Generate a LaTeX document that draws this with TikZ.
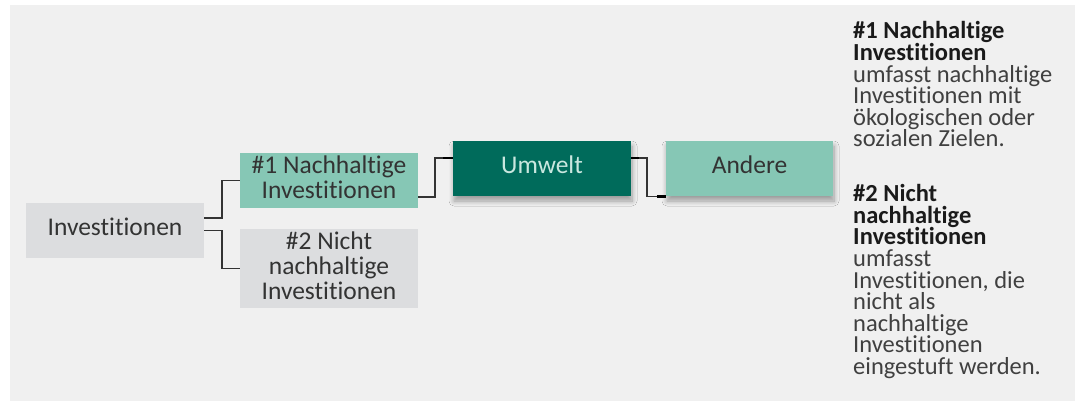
\documentclass[tikz,border=0pt]{standalone}
\usepackage{fontspec}
\setmainfont{Carlito}[Ligatures=NoCommon]
\usetikzlibrary{shadows.blur}

\definecolor{panelgray}{HTML}{F0F0F0}
\definecolor{boxgray}{HTML}{DCDDDF}
\definecolor{mint}{HTML}{86C7B5}
\definecolor{deepgreen}{HTML}{006B5B}
\definecolor{palemint}{HTML}{C9E7DF}
\definecolor{inktext}{HTML}{333333}
\definecolor{linegray}{HTML}{333333}
\definecolor{headink}{HTML}{1A1A1A}
\definecolor{bodyink}{HTML}{404040}

\newcommand{\hd}[1]{\textcolor{headink}{\bfseries #1}}

\tikzset{
  box/.style={rectangle, inner sep=0pt, minimum width=178pt, minimum height=55pt,
    align=center, text=inktext, font=\fontsize{25.5}{25}\selectfont},
  oneline/.style={text height=16pt, text depth=7pt},
  grayfill/.style={box, fill=boxgray},
  mintfill/.style={box, fill=mint},
  greenfill/.style={box, fill=deepgreen, text=palemint},
  lifted/.style={blur shadow={shadow xshift=1pt, shadow yshift=-5pt,
    shadow opacity=35, shadow blur radius=5pt, shadow blur steps=8}},
  conn/.style={draw=linegray, line width=1.5pt},
  stub/.style={draw=black, line width=2.4pt},
  note/.style={anchor=base west, inner sep=0pt, text width=215pt, align=flush left,
    text=bodyink, font=\fontsize{24.5}{21.6}\selectfont},
}

\begin{document}
\begin{tikzpicture}[x=1pt, y=-1pt]
  % canvas and grey panel
  \useasboundingbox (0,0) rectangle (1079,401);
  \fill[white] (0,0) rectangle (1079,401);
  \fill[panelgray] (10,5) rectangle (1075,401);

  % tree of investment categories
  \node[grayfill, oneline] (inv) at (115,230.5) {Investitionen};
  \node[mintfill, text height=40pt, text depth=5pt] (n1) at (329,180.5)
    {\#1 Nachhaltige\\Investitionen};
  \node[grayfill, minimum height=79pt, text height=65pt, text depth=2.6pt] (n2) at (329,268.5)
    {\#2 Nicht\\nachhaltige\\Investitionen};
  \node[greenfill, oneline, lifted] (umw) at (542,168.5) {Umwelt};
  \node[mintfill, oneline, lifted, minimum width=167pt] (oth) at (749.5,168.5) {Andere};

  % elbow connectors
  \draw[conn] ([yshift=12.5pt]inv.east) -- ++(18,0) |- (n1.west);
  \draw[conn] (inv.east) -- ++(18,0) |- (n2.west);
  \draw[conn] ([yshift=-16.5pt]n1.east) -- ++(17,0) |- ([yshift=10.5pt]umw.west);
  \draw[conn] ([yshift=10.5pt]umw.east) -- ++(16,0) |- ([yshift=-28pt]oth.west);

  % heavier stubs where the connectors meet the boxes
  \draw[stub] ([yshift=10.5pt]umw.west) -- ++(-10,0);
  \draw[stub] ([yshift=10.5pt]umw.east) -- ++(8,0);
  \draw[stub] ([yshift=-28pt]oth.west) -- ++(-9,0);

  % legend on the right
  \node[note] (def1) at (853,39)
    {\hd{\#1 Nachhaltige}\\\hd{Investitionen}\\
     umfasst nachhaltige\\Investitionen mit\\ökologischen oder\\sozialen Zielen.};
  \node[note] (def2) at (853,201.7)
    {\hd{\#2 Nicht}\\\hd{nachhaltige}\\\hd{Investitionen}\\
     umfasst\\Investitionen, die\\nicht als\\nachhaltige\\Investitionen\\eingestuft werden.};
\end{tikzpicture}
\end{document}
